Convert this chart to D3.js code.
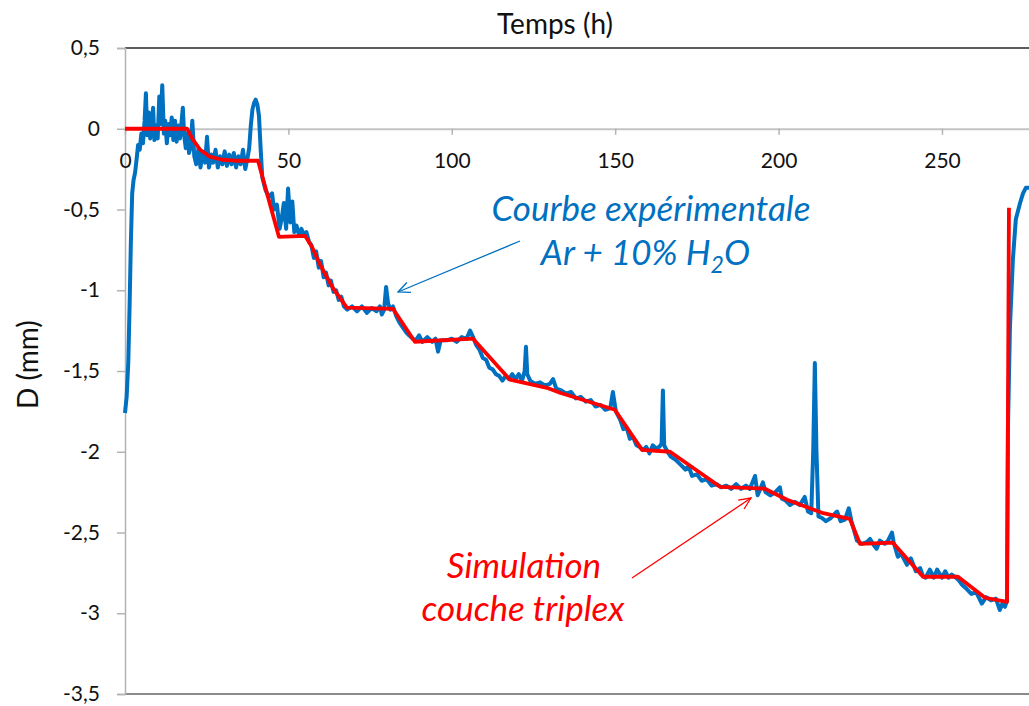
<!DOCTYPE html>
<html>
<head>
<meta charset="utf-8">
<script src="https://d3js.org/d3.v7.min.js"></script>
<style>
  body { margin: 0; background: #fff; }
  svg { display: block; font-family: Lato, "Open Sans", sans-serif; }
</style>
</head>
<body>
<svg width="1029" height="706"></svg>
<script>
// experimental curve (Ar + 10% H2O), time in h, D in mm
const expTime = [0, 0.5, 1, 1.4, 1.8, 2.2, 2.6, 3.1, 3.6, 4, 4.5, 5, 5.5, 6, 6.4, 6.8, 7.3, 7.7, 8.2, 8.6, 9, 9.5, 10, 10.5, 10.9, 11.4, 11.9, 12.3, 12.8, 13.3, 13.8, 14.3, 14.8, 15.3, 15.8, 16.3, 16.8, 17.3, 17.7, 18.1, 18.6, 19.1, 19.6,
  20, 20.6, 21.2, 21.8, 22.5, 23.1, 23.8, 24.5, 25.1, 25.7, 26.4, 27, 27.7, 28.4, 29.1, 29.8, 30.5, 31.2, 31.9, 32.6, 33.3, 34, 34.7, 35.4, 36.1, 36.8, 37.5, 38, 38.5, 39, 39.5, 40, 40.5, 41, 41.5,
  42, 43, 44, 45, 45.6, 46.5, 47.3, 48, 48.6, 49.3, 49.9, 50.6, 51.2, 51.8, 52.5, 53.3, 54, 54.8, 55.5, 56.3, 57, 57.8, 58.5, 59.3, 60, 60.8, 61.5, 62.3, 63, 63.8, 64.6, 65.4, 66.2, 67, 68, 69.5, 71, 72.5, 74, 75.5, 77, 78, 78.6, 79.3, 79.9, 80.5, 81.2, 82,
  83, 84, 85, 86, 87, 88, 89, 90, 91, 92.5, 94, 95, 95.8, 96.6, 98.5, 100, 101.5, 103, 104.5, 105.6, 106.5, 107.5, 108.5, 109.5, 110.5, 111.5, 112.5, 113.5, 114.5, 115.5, 116.5, 117.5, 118.5, 119.5, 120.5, 121.5, 122.3, 122.7, 123.1, 124, 125.5, 127, 128.5, 130, 131, 132, 133.5, 135, 136.5, 138, 139.5, 141, 142.5, 144, 145.5, 147, 148.5, 149.3, 150.2,
  151.5, 152.5, 153.5, 154.5, 155.5, 156.5, 157.5, 158.5, 159.5, 160.5, 161.5, 162.5, 163.5, 164.2, 164.6, 165, 166, 167, 168.5, 170, 171.5, 172.5, 173.5, 175, 176.5, 178, 179.5, 181, 182.5, 184, 185.5, 187, 188.5, 190, 191.2, 192.8, 193.6, 195.2, 196, 197.5, 199, 200.4, 201, 202, 203.5, 205, 206.5, 208, 209, 210, 210.6, 211.1, 211.6, 212.2, 213.3, 214.5, 216, 217.9, 219, 220.3, 221.5, 222.3, 223, 224,
  225.5, 227, 228, 229.2, 230, 231, 232.5, 233.5, 234.7, 235.2, 236.5, 237.5, 239.3, 240.5, 242, 243.3, 244.2, 245, 246.3, 247.5, 248.5, 250, 251, 252, 253, 254.9, 256, 257.6, 259, 260.5, 262.2, 263.5, 265, 266.5, 267.7, 268.5, 269.3, 269.9, 270.2, 270.8, 271.7, 272.6, 273.9, 274.8, 275.7, 277];
const expD = [-1.76, -1.66, -1.45, -1.1, -0.7, -0.4, -0.32, -0.27, -0.18, -0.1, -0.13, -0.03, -0.09, 0.05, 0.22, -0.04, 0.1, -0.06, 0.02, 0.13, -0.07, 0.02, -0.06, 0.2, 0.03, 0.27, -0.03, 0.05, -0.09, 0.03, -0.04, 0.07, -0.07, 0.05, -0.08, 0.02, -0.06, 0.04, 0.13, -0.04, -0.12, -0.03, -0.15,
  -0.12, 0.05, -0.17, -0.22, -0.12, -0.24, -0.15, -0.21, -0.05, -0.24, -0.16, -0.21, -0.13, -0.24, -0.17, -0.22, -0.14, -0.23, -0.16, -0.22, -0.15, -0.24, -0.17, -0.22, -0.13, -0.25, -0.18, -0.12, 0.02, 0.12, 0.16, 0.18, 0.15, 0.08, -0.12,
  -0.3, -0.38, -0.42, -0.4, -0.5, -0.47, -0.62, -0.55, -0.46, -0.62, -0.37, -0.58, -0.45, -0.64, -0.6, -0.66, -0.62, -0.66, -0.64, -0.7, -0.72, -0.8, -0.76, -0.86, -0.82, -0.92, -0.89, -0.97, -0.94, -1.01, -1, -1.06, -1.04, -1.1, -1.12, -1.1, -1.13, -1.1, -1.14, -1.11, -1.13, -1.1, -1.15, -1.12, -0.98, -1.08, -1.12, -1.1,
  -1.16, -1.2, -1.23, -1.26, -1.28, -1.3, -1.31, -1.28, -1.32, -1.29, -1.32, -1.3, -1.38, -1.31, -1.31, -1.3, -1.32, -1.29, -1.3, -1.25, -1.29, -1.34, -1.37, -1.42, -1.43, -1.48, -1.49, -1.52, -1.53, -1.56, -1.53, -1.55, -1.52, -1.55, -1.52, -1.56, -1.5, -1.35, -1.52, -1.56, -1.58, -1.57, -1.59, -1.58, -1.55, -1.61, -1.62, -1.64, -1.63, -1.67, -1.66, -1.69, -1.68, -1.72, -1.71, -1.74, -1.73, -1.63, -1.75,
  -1.8, -1.86, -1.85, -1.92, -1.91, -1.96, -1.97, -1.99, -1.97, -2.01, -1.96, -1.98, -1.97, -1.95, -1.62, -1.96, -2, -2.03, -2.05, -2.08, -2.11, -2.09, -2.15, -2.14, -2.18, -2.17, -2.21, -2.2, -2.22, -2.21, -2.23, -2.2, -2.23, -2.21, -2.23, -2.15, -2.27, -2.19, -2.25, -2.27, -2.25, -2.22, -2.29, -2.3, -2.33, -2.31, -2.33, -2.28, -2.37, -2.38, -2.0, -1.45, -2.0, -2.4, -2.41, -2.43, -2.41, -2.37, -2.43, -2.42, -2.35, -2.43, -2.48, -2.55,
  -2.57, -2.56, -2.54, -2.58, -2.6, -2.55, -2.57, -2.55, -2.5, -2.56, -2.65, -2.63, -2.7, -2.66, -2.74, -2.72, -2.77, -2.78, -2.73, -2.78, -2.73, -2.78, -2.74, -2.78, -2.76, -2.79, -2.82, -2.85, -2.88, -2.87, -2.94, -2.9, -2.92, -2.91, -2.98, -2.94, -2.96, -2.92, -1.85, -1.23, -0.81, -0.56, -0.46, -0.4, -0.365, -0.365];

// simulation "couche triplex"
const simTime = [0, 19, 20.8, 23, 26, 29.7, 33.7, 40.7, 47.1, 55.1, 57.2, 59.7, 63.6, 67.9, 82, 88.7, 106.5, 117.8, 129.1, 133.1, 149.9, 158.2, 166.8, 182.1, 195.8, 202.6, 213.3, 221.8, 224.9, 235, 244.2, 254.9, 263.2, 269.9, 270.5];
const simD = [0, 0, -0.068, -0.13, -0.173, -0.192, -0.198, -0.198, -0.669, -0.663, -0.731, -0.842, -0.985, -1.108, -1.115, -1.319, -1.3, -1.554, -1.604, -1.635, -1.74, -1.988, -2, -2.217, -2.229, -2.297, -2.378, -2.415, -2.57, -2.563, -2.774, -2.774, -2.904, -2.929, -0.489];

const xTicks = [0, 50, 100, 150, 200, 250];
const yTicks = [0.5, 0, -0.5, -1, -1.5, -2, -2.5, -3, -3.5];

const svg = d3.select('svg');
const xScale = d3.scaleLinear().domain([0, 280]).range([125, 1040]);
const yScale = d3.scaleLinear().domain([-3.5, 0.5]).range([694, 48]);

// top and bottom frame lines
svg.append('line')
  .attr('x1', 125).attr('x2', 1029)
  .attr('y1', yScale(0.5)).attr('y2', yScale(0.5))
  .attr('stroke', '#262626').attr('stroke-width', 1.5);
svg.append('line')
  .attr('x1', 125).attr('x2', 1029)
  .attr('y1', yScale(-3.5)).attr('y2', yScale(-3.5))
  .attr('stroke', '#8a8a8a').attr('stroke-width', 2);

// y axis
const yAxis = svg.append('g')
  .attr('transform', `translate(${xScale(0)},0)`)
  .call(d3.axisLeft(yScale).tickValues(yTicks).tickSize(8).tickPadding(17)
    .tickFormat(d => String(d).replace('.', ',')));
yAxis.select('.domain').attr('stroke', '#b3b3b3').attr('stroke-width', 1.5);
yAxis.selectAll('.tick line').attr('stroke', '#b3b3b3').attr('stroke-width', 1.5);
yAxis.selectAll('.tick text').attr('font-size', 21).attr('fill', '#111').attr('font-family', 'Lato, sans-serif');

// x axis on D = 0
const xAxis = svg.append('g')
  .attr('transform', `translate(0,${yScale(0)})`)
  .call(d3.axisBottom(xScale).tickValues(xTicks).tickSize(6).tickSizeOuter(0));
xAxis.select('.domain').attr('stroke', '#c4c4c4').attr('stroke-width', 2);
xAxis.selectAll('.tick line').attr('stroke', '#b3b3b3').attr('stroke-width', 1.5);
xAxis.selectAll('.tick text').attr('font-size', 21).attr('fill', '#111')
  .attr('font-family', 'Lato, sans-serif').attr('dy', null).attr('y', 39);

// axis titles
svg.append('text')
  .attr('x', 555).attr('y', 34)
  .attr('text-anchor', 'middle').attr('font-size', 28).attr('fill', '#111')
  .text('Temps (h)');
svg.append('text')
  .attr('transform', `translate(38,${yScale(-1.46)}) rotate(-90)`)
  .attr('text-anchor', 'middle').attr('font-size', 28).attr('fill', '#111')
  .text('D (mm)');

// curves
const expData = expTime.map((t, i) => [t, expD[i]]);
const simData = simTime.map((t, i) => [t, simD[i]]);
const line = d3.line().x(d => xScale(d[0])).y(d => yScale(d[1]));

svg.append('path')
  .datum(expData)
  .attr('d', line)
  .attr('fill', 'none')
  .attr('stroke', '#0070c0')
  .attr('stroke-width', 4)
  .attr('stroke-linejoin', 'round');

svg.append('path')
  .datum(simData)
  .attr('d', line)
  .attr('fill', 'none')
  .attr('stroke', '#ff0000')
  .attr('stroke-width', 3.8)
  .attr('stroke-linejoin', 'round');

// annotations with arrows
const arrow = (x1, y1, x2, y2, color) => {
  const a = Math.atan2(y2 - y1, x2 - x1);
  const len = 13, spread = 0.42;
  svg.append('line')
    .attr('x1', x1).attr('y1', y1).attr('x2', x2).attr('y2', y2)
    .attr('stroke', color).attr('stroke-width', 1.3);
  svg.append('path')
    .attr('d', `M${x2 - len * Math.cos(a - spread)},${y2 - len * Math.sin(a - spread)}L${x2},${y2}L${x2 - len * Math.cos(a + spread)},${y2 - len * Math.sin(a + spread)}`)
    .attr('fill', 'none').attr('stroke', color).attr('stroke-width', 1.3);
};

arrow(520, 241, 398, 292, '#0070c0');
arrow(632, 578, 751, 498, '#ff0000');

svg.append('text')
  .attr('x', 651).attr('y', 221)
  .attr('text-anchor', 'middle').attr('font-size', 35).attr('font-style', 'italic')
  .attr('fill', '#0070c0')
  .text('Courbe expérimentale');
const h2o = svg.append('text')
  .attr('x', 750).attr('y', 265)
  .attr('text-anchor', 'end').attr('font-size', 35).attr('font-style', 'italic')
  .attr('fill', '#0070c0');
h2o.append('tspan').text('Ar + 10% H');
h2o.append('tspan').attr('dy', 8).attr('font-size', 23).text('2');
h2o.append('tspan').attr('dy', -8).text('O');

svg.append('text')
  .attr('x', 524).attr('y', 578)
  .attr('text-anchor', 'middle').attr('font-size', 35).attr('font-style', 'italic')
  .attr('fill', '#ff0000')
  .text('Simulation');
svg.append('text')
  .attr('x', 523).attr('y', 621)
  .attr('text-anchor', 'middle').attr('font-size', 35).attr('font-style', 'italic')
  .attr('fill', '#ff0000')
  .text('couche triplex');
</script>
</body>
</html>
